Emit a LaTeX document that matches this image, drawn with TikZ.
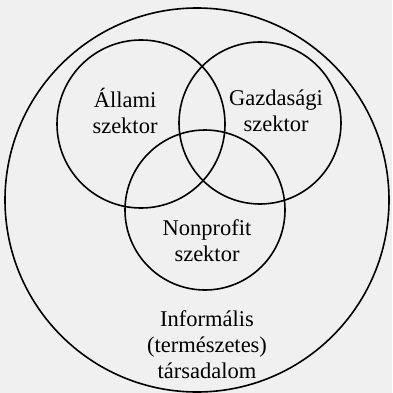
\documentclass[tikz,border=0pt]{standalone}
\usepackage{fontspec}
\setmainfont{Liberation Serif}
\begin{document}
\begin{tikzpicture}[x=1pt,y=-1pt,line width=1.6pt,
	lbl/.style={align=center,font=\fontsize{22.5}{26}\selectfont}]
	\fill[black!6] (0,0) rectangle (392,393);
	\useasboundingbox (0,0) rectangle (392,393);
	\draw (197,200) circle (192);
	\draw (141,124) circle (84);
	\draw (260,123) circle (81);
	\draw (205,210) circle (80);
	\node[lbl] (allami) at (125,111) {Állami\\szektor};
	\node[lbl] (gazd) at (276,111) {Gazdasági\\szektor};
	\node[lbl] (nonpr) at (207,241) {Nonprofit\\szektor};
	\node[lbl] (inform) at (207,345) {Informális\\(természetes)\\társadalom};
	%	\draw[dashed] (0,0) -- (392,393);
\end{tikzpicture}
\end{document}
